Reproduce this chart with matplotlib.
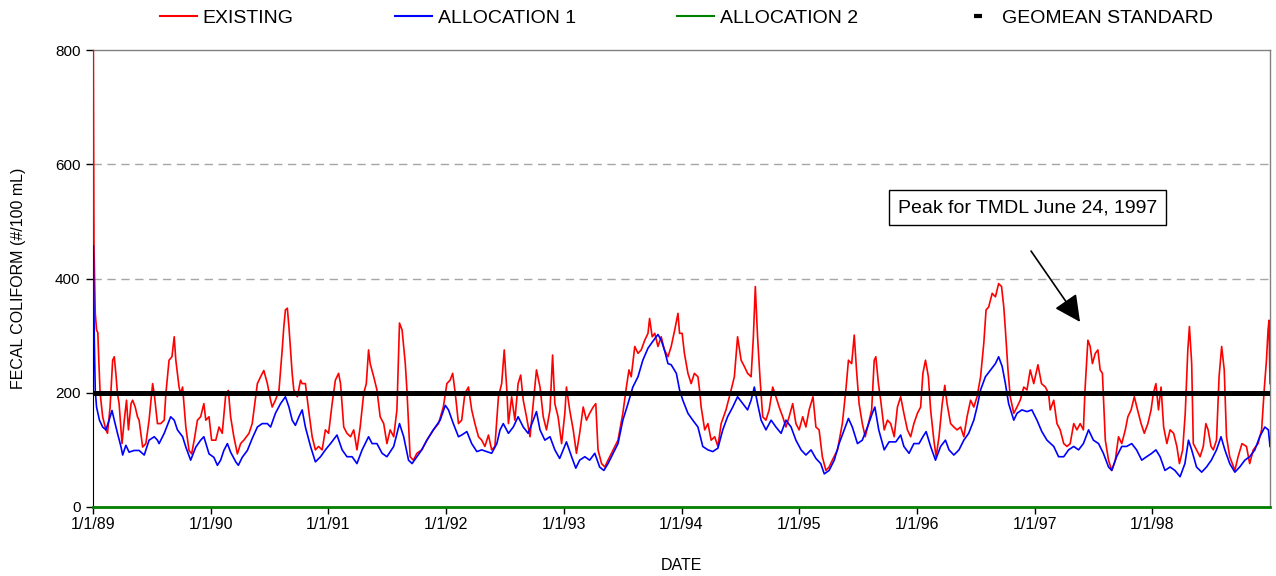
import numpy as np
import matplotlib
matplotlib.use("Agg")
import matplotlib.pyplot as plt
from matplotlib.lines import Line2D

plt.rcParams['font.family'] = ['Liberation Sans', 'DejaVu Sans']

# ---------------- data (days since 1/1/1989, value #/100 mL) ----------------
existing_day = [1, 3, 7, 11, 15, 18, 22, 30, 40, 45, 53, 61, 66, 71, 76, 81, 90, 97, 104, 110,
                118, 123, 131, 138, 143, 154, 164, 174, 185, 190, 200, 210, 221, 226, 236, 245,
                252, 257, 267, 272, 278, 288, 298, 306, 314, 324, 334, 344, 350, 360, 368, 381,
                391, 401, 412, 420, 427, 437, 448, 458, 468, 484, 494, 510, 520, 530, 541, 551,
                556, 566, 577, 587, 592, 597, 603, 608, 613, 618, 623, 634, 644, 649, 659, 669,
                680, 690, 700, 711, 721, 731, 742, 752, 762, 768, 778, 788, 799, 809, 819, 829,
                840, 848, 855, 860, 871, 881, 891, 902, 912, 922, 933, 943, 951, 959, 969, 974,
                984, 994, 1005, 1020, 1036, 1056, 1072, 1087, 1098, 1108, 1116, 1124, 1134, 1144,
                1154, 1165, 1175, 1185, 1196, 1206, 1216, 1227, 1237, 1247, 1258, 1268, 1276,
                1284, 1289, 1299, 1309, 1319, 1327, 1335, 1345, 1356, 1366, 1376, 1387, 1397,
                1407, 1418, 1426, 1433, 1443, 1454, 1464, 1469, 1479, 1490, 1500, 1510, 1521,
                1531, 1541, 1552, 1560, 1567, 1578, 1588, 1598, 1614, 1629, 1644, 1655, 1663,
                1670, 1681, 1691, 1701, 1712, 1722, 1727, 1735, 1743, 1753, 1763, 1773, 1784,
                1794, 1805, 1815, 1820, 1828, 1835, 1846, 1856, 1866, 1877, 1882, 1887, 1898,
                1908, 1918, 1929, 1939, 1949, 1964, 1980, 1990, 2000, 2011, 2021, 2031, 2042,
                2049, 2055, 2062, 2070, 2078, 2088, 2098, 2109, 2119, 2129, 2140, 2150, 2160,
                2171, 2181, 2191, 2202, 2212, 2222, 2234, 2243, 2253, 2263, 2274, 2284, 2294,
                2310, 2325, 2336, 2344, 2354, 2362, 2369, 2377, 2387, 2396, 2406, 2416, 2424,
                2429, 2437, 2444, 2455, 2465, 2475, 2486, 2496, 2506, 2516, 2527, 2537, 2547,
                2558, 2568, 2575, 2583, 2592, 2599, 2609, 2616, 2625, 2635, 2643, 2650, 2661,
                2671, 2681, 2692, 2702, 2712, 2723, 2733, 2743, 2754, 2764, 2771, 2779, 2790,
                2800, 2810, 2819, 2826, 2831, 2839, 2846, 2857, 2867, 2877, 2888, 2898, 2908,
                2919, 2932, 2943, 2955, 2965, 2970, 2981, 2991, 3001, 3012, 3022, 3032, 3043,
                3053, 3063, 3073, 3078, 3087, 3094, 3101, 3110, 3118, 3125, 3132, 3141, 3151,
                3161, 3172, 3182, 3192, 3203, 3211, 3221, 3231, 3241, 3252, 3262, 3273, 3283,
                3290, 3298, 3306, 3314, 3322, 3332, 3342, 3353, 3363, 3371, 3381, 3389, 3397,
                3402, 3409, 3414, 3424, 3435, 3445, 3453, 3460, 3469, 3476, 3486, 3494, 3502,
                3510, 3517, 3527, 3543, 3553, 3565, 3579, 3589, 3600, 3615, 3626, 3634, 3641,
                3646, 3649, 3652]
existing_val = [800, 460, 339, 310, 305, 257, 200, 158, 135, 129, 175, 257, 263, 233, 198, 181, 111, 152, 187, 135,
                181, 187, 175, 158, 152, 105, 111, 152, 216, 198, 146, 146, 152, 198, 257, 263,
                298, 257, 210, 198, 210, 140, 99, 93, 117, 152, 158, 181, 152, 158, 117, 117,
                140, 129, 198, 204, 158, 123, 93, 111, 117, 129, 146, 216, 228, 239, 216, 187,
                175, 187, 204, 275, 315, 345, 348, 315, 275, 234, 205, 193, 222, 216, 216, 170,
                123, 100, 106, 100, 135, 129, 181, 222, 234, 216, 140, 129, 123, 135, 100, 140,
                199, 216, 275, 251, 228, 205, 158, 146, 111, 135, 123, 170, 322, 310, 251, 205,
                88, 82, 94, 100, 117, 135, 146, 175, 216, 222, 234, 199, 146, 152,
                199, 210, 170, 146, 123, 117, 106, 126, 100, 106, 193, 216, 275,
                205, 146, 193, 152, 216, 231, 187, 158, 123, 181, 240, 210, 158,
                135, 170, 266, 181, 158, 111, 164, 210, 170, 135, 94, 129, 175,
                152, 164, 175, 181, 100, 76, 70, 82, 100, 117, 164, 210, 240,
                228, 281, 269, 275, 292, 304, 330, 298, 304, 281, 298, 275, 263,
                281, 310, 339, 304, 304, 269, 234, 216, 234, 228, 205, 175, 135,
                146, 117, 123, 106, 146, 170, 205, 228, 298, 257, 246, 234, 228,
                298, 386, 298, 222, 158, 152, 170, 210, 193, 175, 158, 140, 158,
                181, 146, 135, 158, 140, 170, 193, 140, 135, 88, 64, 70, 82,
                100, 146, 205, 257, 251, 301, 240, 181, 146, 123, 146, 170, 257,
                263, 216, 187, 135, 152, 146, 123, 175, 193, 164, 135, 123, 146,
                164, 175, 234, 257, 228, 170, 117, 88, 123, 181, 213, 181, 146,
                140, 135, 140, 123, 158, 187, 175, 193, 228, 287, 345, 350, 374,
                368, 391, 386, 350, 310, 240, 193, 164, 175, 187, 210, 205, 240,
                216, 249, 216, 210, 199, 170, 187, 146, 135, 111, 106, 111, 146,
                135, 146, 135, 205, 292, 281, 251, 269, 275, 240, 234, 117, 82,
                64, 82, 123, 111, 135, 158, 170, 193, 170, 146, 129, 146, 170,
                199, 216, 170, 210, 140, 111, 135, 129, 106, 76, 100, 164, 275,
                316, 251, 111, 100, 88, 106, 146, 135, 106, 100, 117, 228, 281,
                240, 123, 88, 64, 88, 111, 106, 76, 100, 111, 135, 205, 257,
                310, 327, 216]

alloc1_day = [1, 4, 7, 11, 20, 30, 40, 50, 59, 66, 76, 87, 92, 102, 112, 128, 143, 159, 174, 190,
              200, 205, 221, 241, 252, 262, 278, 288, 303, 319, 334, 344, 360, 375, 386, 396,
              406, 417, 427, 443, 451, 463, 479, 494, 510, 525, 541, 551, 566, 582, 597, 608,
              618, 628, 639, 649, 659, 675, 690, 706, 721, 737, 757, 773, 788, 804, 819, 835,
              855, 866, 881, 897, 912, 933, 951, 964, 979, 990, 1005, 1020, 1036, 1056, 1077,
              1093, 1103, 1118, 1134, 1144, 1160, 1175, 1191, 1206, 1222, 1237, 1253, 1263,
              1273, 1289, 1304, 1319, 1335, 1350, 1366, 1376, 1387, 1402, 1418, 1433, 1448,
              1459, 1469, 1485, 1498, 1510, 1526, 1541, 1557, 1572, 1585, 1598, 1614, 1629,
              1644, 1660, 1675, 1691, 1706, 1722, 1737, 1753, 1763, 1773, 1784, 1794, 1810,
              1820, 1830, 1846, 1861, 1877, 1892, 1908, 1923, 1939, 1954, 1969, 1985, 2000,
              2016, 2031, 2042, 2052, 2062, 2073, 2088, 2104, 2119, 2135, 2150, 2166, 2181,
              2197, 2212, 2228, 2243, 2258, 2269, 2284, 2300, 2315, 2331, 2344, 2356, 2372,
              2387, 2403, 2418, 2426, 2438, 2455, 2470, 2491, 2506, 2516, 2532, 2547, 2563,
              2575, 2585, 2599, 2614, 2630, 2645, 2656, 2671, 2687, 2702, 2717, 2733, 2743,
              2754, 2769, 2785, 2800, 2810, 2821, 2831, 2841, 2857, 2867, 2882, 2898, 2913,
              2929, 2944, 2960, 2981, 2996, 3012, 3027, 3043, 3058, 3073, 3089, 3104, 3120,
              3135, 3151, 3161, 3176, 3192, 3207, 3223, 3238, 3254, 3269, 3285, 3298, 3311,
              3326, 3342, 3357, 3373, 3388, 3399, 3409, 3424, 3440, 3455, 3470, 3486, 3500,
              3512, 3527, 3543, 3558, 3574, 3589, 3605, 3620, 3636, 3647, 3652]
alloc1_val = [457, 292, 204, 175, 152, 140, 135, 152, 169, 152, 129, 105, 91, 108, 96, 99, 99, 91, 117, 123,
              117, 111, 129, 158, 152, 135, 123, 105, 82, 105, 117, 123, 93, 87, 73, 82,
              99, 111, 96, 79, 73, 87, 99, 120, 140, 146, 146, 140, 164, 181, 193, 175,
              152, 143, 158, 170, 140, 106, 79, 88, 100, 111, 126, 100, 88, 88, 76, 100,
              123, 111, 111, 94, 88, 106, 146, 123, 82, 76, 88, 100, 117, 135, 152,
              178, 170, 146, 123, 126, 132, 111, 97, 100, 97, 94, 111, 135,
              146, 129, 140, 158, 140, 129, 152, 167, 135, 117, 123, 100, 85,
              100, 114, 88, 68, 82, 88, 82, 94, 70, 64, 76, 94, 111,
              152, 181, 210, 228, 257, 278, 290, 302, 292, 275, 251, 249, 234,
              205, 187, 164, 152, 140, 106, 100, 97, 103, 135, 158, 175, 193,
              181, 170, 187, 210, 181, 152, 135, 152, 140, 129, 152, 140, 117,
              100, 91, 100, 85, 76, 58, 64, 82, 111, 135, 155, 140, 111,
              117, 140, 164, 175, 135, 100, 114, 114, 126, 106, 94, 111, 111,
              123, 132, 106, 82, 106, 117, 100, 91, 100, 117, 129, 152, 175,
              205, 228, 240, 251, 263, 246, 216, 181, 152, 164, 170, 167, 170,
              152, 132, 117, 106, 88, 88, 100, 106, 100, 111, 135, 117, 111,
              94, 70, 64, 88, 106, 106, 111, 100, 82, 88, 94, 100, 88,
              64, 70, 64, 53, 76, 117, 100, 70, 61, 70, 82, 100, 123,
              100, 76, 61, 70, 82, 88, 100, 123, 140, 135, 106]

alloc2_day = [0, 3652]
alloc2_val = [0, 0]

geomean_standard = 200

year_ticks = ['1989-01-01', '1990-01-01', '1991-01-01', '1992-01-01', '1993-01-01',
              '1994-01-01', '1995-01-01', '1996-01-01', '1997-01-01', '1998-01-01']
year_labels = ['1/1/89', '1/1/90', '1/1/91', '1/1/92', '1/1/93',
               '1/1/94', '1/1/95', '1/1/96', '1/1/97', '1/1/98']
y_ticks = [0, 200, 400, 600, 800]

start = np.datetime64('1989-01-01')
def to_dates(days):
    return start + np.array(days).astype('timedelta64[D]')

# ---------------- figure ----------------
fig = plt.figure(figsize=(12.76, 5.76), dpi=100)
ax = fig.add_axes([93/1276, 69/576, 1177/1276, 457/576])

RED = '#ff0000'
BLUE = '#0000ff'
GREEN = '#008000'

for yv in [400, 600]:
    ax.axhline(yv, color='#a6a6a6', lw=1.0, linestyle=(0, (6, 4)), zorder=1)

ax.plot(to_dates(existing_day), existing_val, color=RED, lw=1.2, zorder=3)
ax.plot(to_dates(alloc1_day), alloc1_val, color=BLUE, lw=1.2, zorder=4)
ax.plot(to_dates(alloc2_day), alloc2_val, color=GREEN, lw=2.0, zorder=5, clip_on=False)
ax.axhline(geomean_standard, color='black', lw=3.6, zorder=6)

ax.set_xlim(np.datetime64('1989-01-01'), np.datetime64('1999-01-01'))
ax.set_ylim(0, 800)
ax.set_xticks([np.datetime64(t) for t in year_ticks])
ax.set_xticklabels(year_labels, fontsize=11.5)
ax.set_yticks(y_ticks)
ax.set_yticklabels([str(v) for v in y_ticks], fontsize=11)
ax.tick_params(axis='both', direction='out', length=5, width=1, color='black')
ax.tick_params(axis='x', pad=2)
ax.tick_params(axis='y', pad=4)

for s in ['top', 'right']:
    ax.spines[s].set_color('#808080')
    ax.spines[s].set_linewidth(1.0)
ax.spines['left'].set_color('black')
ax.spines['bottom'].set_color('black')

ax.set_xlabel('DATE', fontsize=11.5, labelpad=19)
ax.set_ylabel('FECAL COLIFORM (#/100 mL)', fontsize=11.5, labelpad=21)

# annotation
ax.text(0.794, 0.655, 'Peak for TMDL June 24, 1997', transform=ax.transAxes,
        ha='center', va='center', fontsize=14,
        bbox=dict(boxstyle='square,pad=0.45', fc='white', ec='black', lw=1.0), zorder=8)
ax.annotate('', xy=(0.8386, 0.405), xytext=(0.797, 0.560),
            xycoords='axes fraction', textcoords='axes fraction',
            arrowprops=dict(arrowstyle='-|>,head_length=0.9,head_width=0.45',
                            color='black', lw=1.2, mutation_scale=18, shrinkA=0, shrinkB=0),
            zorder=8)

# legend
handles = [Line2D([], [], color=RED, lw=1.5),
           Line2D([], [], color=BLUE, lw=1.5),
           Line2D([], [], color=GREEN, lw=1.5),
           Line2D([], [], color='black', linestyle='none', marker='_', markersize=6, mew=3)]
labels = ['EXISTING', 'ALLOCATION 1', 'ALLOCATION 2', 'GEOMEAN STANDARD']
fig.legend(handles, labels, loc='center', bbox_to_anchor=(0.538, 0.968), ncol=4,
           frameon=False, fontsize=14, handlelength=1.9, handletextpad=0.3,
           columnspacing=5.22)

fig.savefig('out.png', dpi=100)
